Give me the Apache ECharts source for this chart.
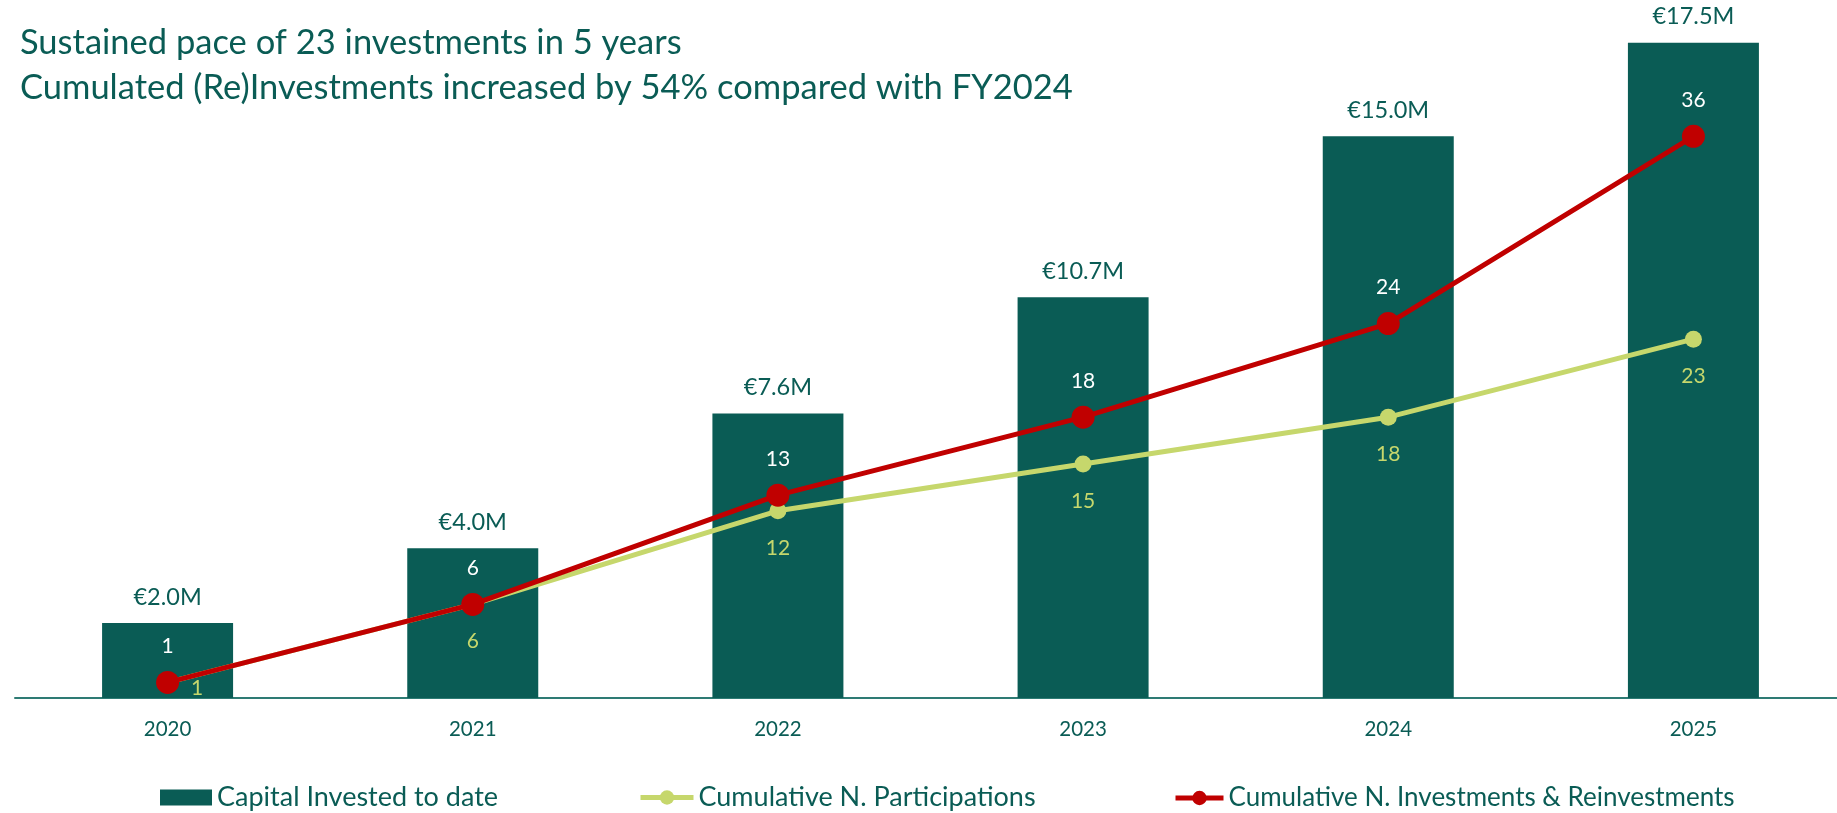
<!DOCTYPE html>
<html>
<head>
<meta charset="utf-8">
<title>Investments</title>
<script src="https://cdn.jsdelivr.net/npm/echarts@6/dist/echarts.min.js"></script>
<style>
  html, body { margin: 0; padding: 0; background: #ffffff; overflow: hidden; }
  #chart { width: 1850px; height: 813px; }
</style>
</head>
<body>
<div id="chart"></div>
<script>
// chart data
var years = ["2020", "2021", "2022", "2023", "2024", "2025"];
var capitalInvested = [2.0, 4.0, 7.6, 10.7, 15.0, 17.5];
var participations = [1, 6, 12, 15, 18, 23];
var investmentsReinvestments = [1, 6, 13, 18, 24, 36];

var teal = "#0a5c55";
var lime = "#c6d76c";
var red = "#c00000";
var font = "Lato";

var chartDom = document.getElementById("chart");
var myChart = echarts.init(chartDom);
var option;

// first green label sits right of the point, the others below
var participationData = participations.map(function (v, i) {
  if (i === 0) {
    return { value: v, label: { position: "right", offset: [-3, 6] } };
  }
  return v;
});

option = {
  backgroundColor: "#ffffff",
  animation: false,
  textStyle: { fontFamily: font },
  title: {
    text: "Sustained pace of 23 investments in 5 years\nCumulated (Re)Investments increased by 54% compared with FY2024",
    left: 15,
    top: 15,
    textStyle: {
      fontFamily: font,
      fontSize: 34.5,
      fontWeight: "normal",
      color: teal,
      lineHeight: 45
    }
  },
  legend: [
    {
      data: [{ name: "Capital Invested to date", icon: "rect" }],
      left: 155,
      top: 779,
      itemWidth: 52,
      itemHeight: 16,
      textStyle: { fontFamily: font, fontSize: 27, color: teal }
    },
    {
      data: ["Cumulative N. Participations"],
      left: 633,
      top: 779,
      itemWidth: 53,
      itemHeight: 18,
      lineStyle: { width: 5 },
      textStyle: { fontFamily: font, fontSize: 27, color: teal }
    },
    {
      data: ["Cumulative N. Investments & Reinvestments"],
      left: 1168,
      top: 780,
      itemWidth: 48,
      itemHeight: 18,
      lineStyle: { width: 5 },
      textStyle: { fontFamily: font, fontSize: 26, color: teal }
    }
  ],
  grid: {
    left: 15,
    width: 1831,
    top: 24,
    bottom: 115,
    containLabel: false
  },
  xAxis: {
    type: "category",
    data: years,
    axisLine: { lineStyle: { color: "#2e7b74", width: 2 } },
    axisTick: { show: false },
    axisLabel: { color: teal, fontSize: 20.5, fontFamily: font, margin: 21 }
  },
  yAxis: [
    { type: "value", min: 0, max: 18, show: false, splitLine: { show: false } },
    { type: "value", min: 0, max: 43.2, show: false, splitLine: { show: false } }
  ],
  series: [
    {
      name: "Capital Invested to date",
      type: "bar",
      data: capitalInvested,
      barWidth: 131,
      itemStyle: { color: teal },
      label: {
        show: true,
        position: "top",
        distance: 14,
        color: teal,
        fontSize: 23.5,
        fontFamily: font,
        formatter: function (p) { return "€" + p.value.toFixed(1) + "M"; }
      }
    },
    {
      name: "Cumulative N. Participations",
      type: "line",
      yAxisIndex: 1,
      data: participationData,
      symbol: "circle",
      symbolSize: 17,
      lineStyle: { color: lime, width: 5 },
      itemStyle: { color: lime },
      label: {
        show: true,
        position: "bottom",
        distance: 18,
        color: lime,
        fontSize: 21,
        fontFamily: font
      }
    },
    {
      name: "Cumulative N. Investments & Reinvestments",
      type: "line",
      yAxisIndex: 1,
      data: investmentsReinvestments,
      symbol: "circle",
      symbolSize: 23,
      lineStyle: { color: red, width: 5 },
      itemStyle: { color: red },
      label: {
        show: true,
        position: "top",
        distance: 14,
        color: "#ffffff",
        fontSize: 21,
        fontFamily: font
      }
    }
  ]
};

option && myChart.setOption(option);
</script>
</body>
</html>
